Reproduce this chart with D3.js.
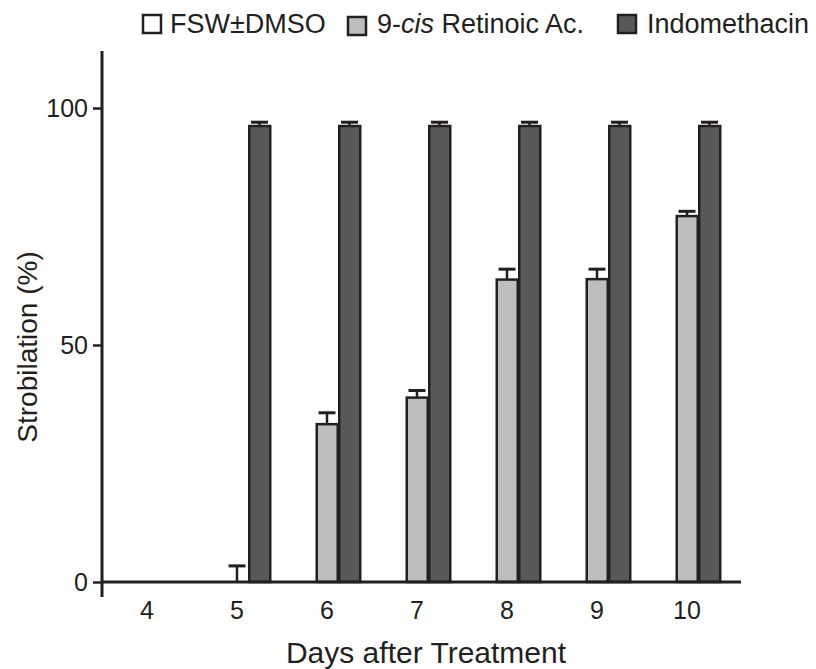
<!DOCTYPE html>
<html>
<head>
<meta charset="utf-8">
<script src="https://cdn.jsdelivr.net/npm/d3@7"></script>
<style>
  body { margin: 0; background: #fff; }
  svg text { font-family: "Liberation Sans", Arial, sans-serif; fill: #231f20; }
</style>
</head>
<body>
<div id="chart"></div>
<script>
// values
const days = [4, 5, 6, 7, 8, 9, 10];
const series = ["fsw", "ret", "indo"];
const fswValues = [0, 0, 0, 0, 0, 0, 0];
const fswErrors = [0, 0, 0, 0, 0, 0, 0];
const retValues = [0, 0, 33.3, 38.9, 63.8, 63.9, 77.2];
const retErrors = [0, 3.4, 2.4, 1.5, 2.2, 2.1, 1.0];
const indoValues = [0, 96.2, 96.2, 96.2, 96.2, 96.2, 96.2];
const indoErrors = [0, 0.8, 0.8, 0.8, 0.8, 0.8, 0.8];
const yTicks = [0, 50, 100];

const colors = { fsw: "#ffffff", ret: "#bcbec0", indo: "#58595b" };
const ink = "#231f20";

const width = 816, height = 669;
const svg = d3.select("#chart").append("svg")
  .attr("width", width)
  .attr("height", height);

const x0 = d3.scaleBand().domain(days).range([102, 732]).padding(0);
const x1 = d3.scaleBand().domain(series).range([0, x0.bandwidth()]).paddingOuter(0.5);
const y = d3.scaleLinear().domain([0, 100]).range([582, 108]);

const rows = days.map((d, i) => ({
  day: d,
  bars: [
    { key: "fsw", v: fswValues[i], e: fswErrors[i] },
    { key: "ret", v: retValues[i], e: retErrors[i] },
    { key: "indo", v: indoValues[i], e: indoErrors[i] }
  ]
}));

const groups = svg.selectAll("g.day")
  .data(rows)
  .join("g")
  .attr("class", "day")
  .attr("transform", d => `translate(${x0(d.day)},0)`);

// error bars (drawn under the bars)
groups.selectAll("g.err")
  .data(d => d.bars.filter(b => b.e > 0))
  .join("g")
  .attr("class", "err")
  .each(function (b) {
    const g = d3.select(this);
    const cx = x1(b.key) + x1.bandwidth() / 2;
    g.append("line")
      .attr("x1", cx).attr("x2", cx)
      .attr("y1", y(b.v)).attr("y2", y(b.v + b.e))
      .attr("stroke", ink).attr("stroke-width", 2.5);
    g.append("line")
      .attr("x1", cx - 8.5).attr("x2", cx + 8.5)
      .attr("y1", y(b.v + b.e)).attr("y2", y(b.v + b.e))
      .attr("stroke", ink).attr("stroke-width", 3);
  });

groups.selectAll("rect")
  .data(d => d.bars.filter(b => b.v > 0))
  .join("rect")
  .attr("x", b => x1(b.key) + 1)
  .attr("width", x1.bandwidth() - 1.5)
  .attr("y", b => y(b.v))
  .attr("height", b => y(0) - y(b.v))
  .attr("fill", b => colors[b.key])
  .attr("stroke", ink)
  .attr("stroke-width", 2.5);

// axes
svg.append("line")
  .attr("x1", 102).attr("x2", 102)
  .attr("y1", 51).attr("y2", 597)
  .attr("stroke", ink).attr("stroke-width", 3);
svg.append("line")
  .attr("x1", 101).attr("x2", 741)
  .attr("y1", y(0)).attr("y2", y(0))
  .attr("stroke", ink).attr("stroke-width", 3);

const yAxis = svg.append("g")
  .attr("transform", "translate(102,0)")
  .call(d3.axisLeft(y).tickValues(yTicks).tickSize(9).tickPadding(5));
yAxis.select(".domain").remove();
yAxis.selectAll("line").attr("stroke", ink).attr("stroke-width", 2.5);
yAxis.selectAll("text").attr("font-size", 25).attr("fill", ink)
  .attr("font-family", "Liberation Sans, Arial, sans-serif");

const xAxis = svg.append("g")
  .attr("transform", `translate(0,${y(0)})`)
  .call(d3.axisBottom(x0).tickSize(0).tickPadding(19));
xAxis.select(".domain").remove();
xAxis.selectAll("text").attr("font-size", 25).attr("fill", ink)
  .attr("font-family", "Liberation Sans, Arial, sans-serif");

svg.append("text")
  .attr("x", 426).attr("y", 663)
  .attr("text-anchor", "middle")
  .attr("font-size", 30)
  .text("Days after Treatment");

svg.append("text")
  .attr("transform", "translate(37,347) rotate(-90)")
  .attr("text-anchor", "middle")
  .attr("font-size", 28)
  .text("Strobilation (%)");

// legend
const legend = [
  { key: "fsw", bx: 143, by: 15, tx: 170 },
  { key: "ret", bx: 348, by: 17, tx: 377 },
  { key: "indo", bx: 618, by: 15, tx: 647 }
];
const lg = svg.append("g");
lg.selectAll("rect")
  .data(legend)
  .join("rect")
  .attr("x", d => d.bx).attr("y", d => d.by)
  .attr("width", 18).attr("height", 18)
  .attr("fill", d => colors[d.key])
  .attr("stroke", ink).attr("stroke-width", 2.5);

lg.append("text").attr("x", 170).attr("y", 33).attr("font-size", 27).text("FSW±DMSO");
const retLabel = lg.append("text").attr("x", 377).attr("y", 33).attr("font-size", 27);
retLabel.append("tspan").text("9-");
retLabel.append("tspan").attr("font-style", "italic").text("cis");
retLabel.append("tspan").text(" Retinoic Ac.");
lg.append("text").attr("x", 647).attr("y", 33).attr("font-size", 27).text("Indomethacin");
</script>
</body>
</html>
